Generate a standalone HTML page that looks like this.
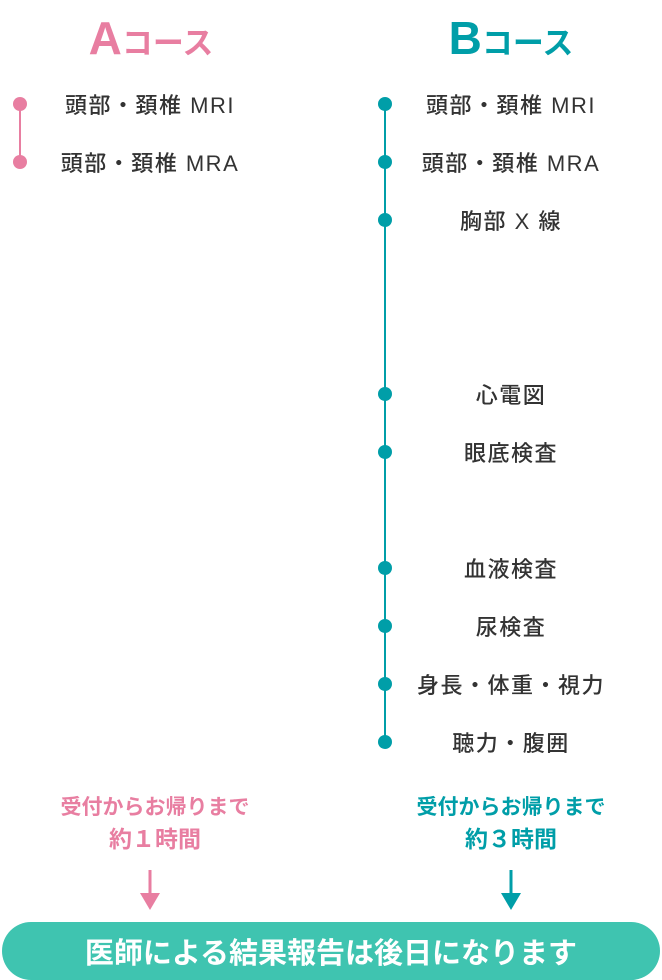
<!DOCTYPE html>
<html><head><meta charset="utf-8"><style>
body{margin:0;width:662px;height:980px;background:#fff;position:relative;font-family:"Liberation Sans","Noto Sans CJK JP",sans-serif;overflow:hidden}
.t{position:absolute;transform:translate(-50%,-50%);white-space:nowrap;font-weight:bold}
.i{position:absolute;transform:translate(-50%,-50%);white-space:nowrap;font-size:22px;letter-spacing:1.5px;color:#333;font-weight:500}
.d{position:absolute;width:14px;height:14px;border-radius:50%;transform:translate(-50%,-50%)}
</style></head><body>
<div class="t" style="left:151px;top:38px;color:#e87ea1;font-size:31px"><span style="font-size:46px">A</span>コース</div>
<div class="t" style="left:511px;top:38px;color:#009ea8;font-size:31px"><span style="font-size:46px">B</span>コース</div>

<div style="position:absolute;left:19px;top:104px;width:2px;height:58px;background:#e87ea1"></div>
<div class="d" style="left:20px;top:104px;background:#e87ea1"></div>
<div class="d" style="left:20px;top:162px;background:#e87ea1"></div>
<div class="i" style="left:150px;top:104px">頭部・頚椎 MRI</div>
<div class="i" style="left:150px;top:162px">頭部・頚椎 MRA</div>

<div style="position:absolute;left:384px;top:104px;width:2px;height:638px;background:#009ea8"></div>
<div class="d" style="left:385px;top:104px;background:#009ea8"></div>
<div class="d" style="left:385px;top:162px;background:#009ea8"></div>
<div class="d" style="left:385px;top:220px;background:#009ea8"></div>
<div class="d" style="left:385px;top:394px;background:#009ea8"></div>
<div class="d" style="left:385px;top:452px;background:#009ea8"></div>
<div class="d" style="left:385px;top:568px;background:#009ea8"></div>
<div class="d" style="left:385px;top:626px;background:#009ea8"></div>
<div class="d" style="left:385px;top:684px;background:#009ea8"></div>
<div class="d" style="left:385px;top:742px;background:#009ea8"></div>
<div class="i" style="left:511px;top:104px">頭部・頚椎 MRI</div>
<div class="i" style="left:511px;top:162px">頭部・頚椎 MRA</div>
<div class="i" style="left:511px;top:220px">胸部 X 線</div>
<div class="i" style="left:511px;top:394px">心電図</div>
<div class="i" style="left:511px;top:452px">眼底検査</div>
<div class="i" style="left:511px;top:568px">血液検査</div>
<div class="i" style="left:511px;top:626px">尿検査</div>
<div class="i" style="left:511px;top:684px">身長・体重・視力</div>
<div class="i" style="left:511px;top:742px">聴力・腹囲</div>

<div class="t" style="left:155px;top:806px;color:#e87ea1;font-size:21px">受付からお帰りまで</div>
<div class="t" style="left:155px;top:837px;color:#e87ea1;font-size:23px">約１時間</div>
<div class="t" style="left:511px;top:806px;color:#009ea8;font-size:21px">受付からお帰りまで</div>
<div class="t" style="left:511px;top:837px;color:#009ea8;font-size:23px">約３時間</div>

<svg style="position:absolute;left:0;top:0" width="662" height="980">
<line x1="150" y1="870" x2="150" y2="896" stroke="#e87ea1" stroke-width="3"/>
<polygon points="140,893 160,893 150,910" fill="#e87ea1"/>
<line x1="511" y1="870" x2="511" y2="896" stroke="#009ea8" stroke-width="3"/>
<polygon points="501,893 521,893 511,910" fill="#009ea8"/>
</svg>
<div style="position:absolute;left:2px;top:922px;width:658px;height:58px;border-radius:29px;background:#3fc4b0"></div>
<div class="t" style="left:331px;top:951px;color:#fff;font-size:29px">医師による結果報告は後日になります</div>
</body></html>
